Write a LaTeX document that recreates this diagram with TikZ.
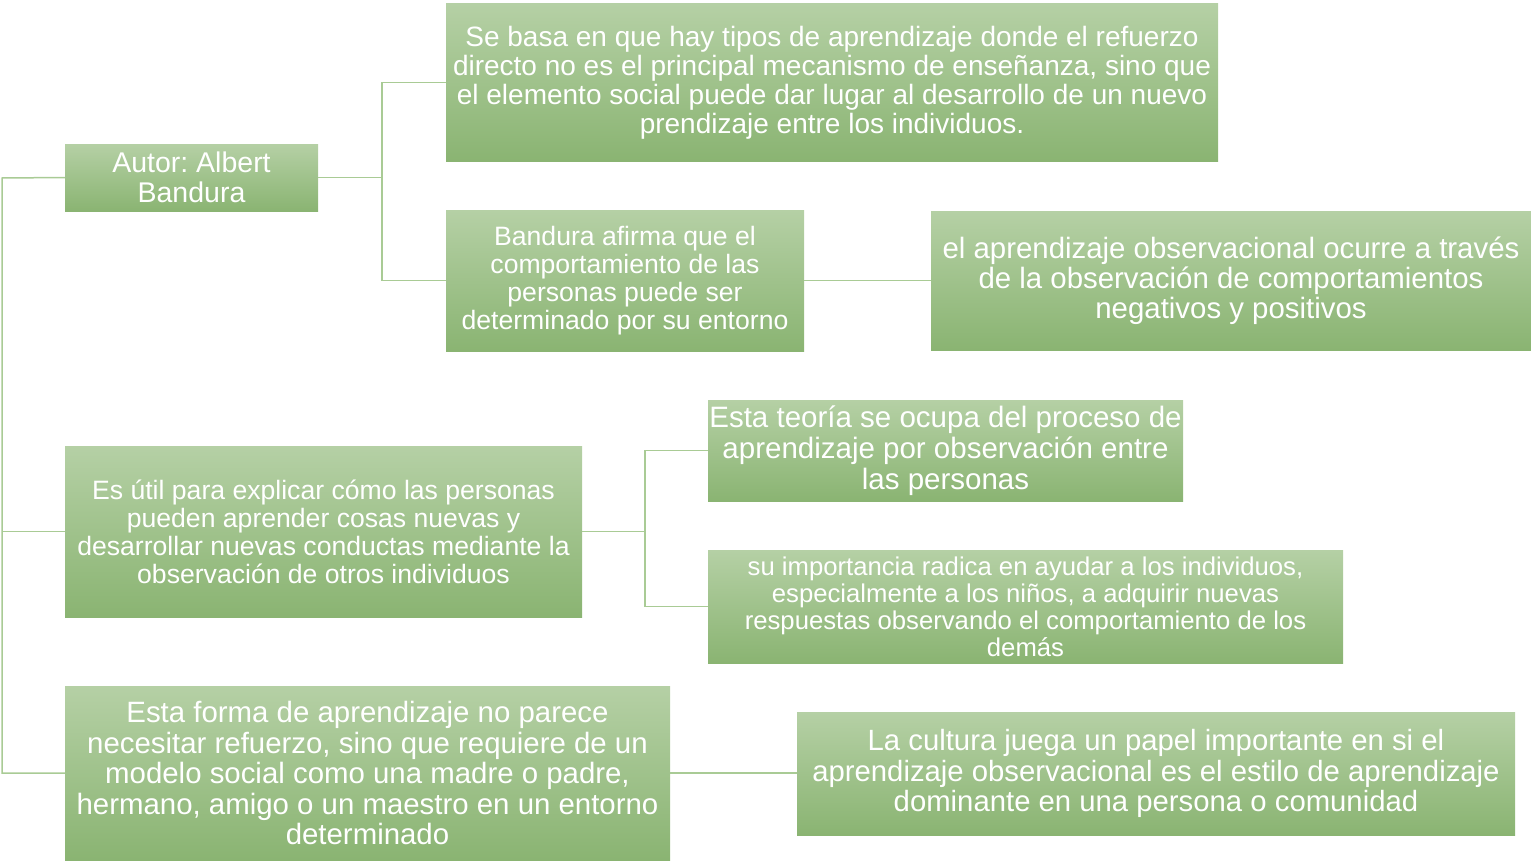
\documentclass[tikz,border=0pt]{standalone}
\usepackage{fontspec}
\setmainfont{Liberation Sans}
\usetikzlibrary{calc}
\definecolor{boxtop}{HTML}{B5D0A5}
\definecolor{boxbottom}{HTML}{8AB472}
\definecolor{linkgreen}{HTML}{A9CB95}
\tikzset{
  concept/.style={anchor=north west,inner sep=0pt,outer sep=0pt,align=center,
    text=white,top color=boxtop,bottom color=boxbottom},
  link/.style={draw=linkgreen,line width=1.5pt}
}
\newcommand{\boxfont}[2]{\fontsize{#1}{#2}\selectfont\frenchspacing}

\begin{document}
\begin{tikzpicture}[x=1pt,y=-1pt]
  \useasboundingbox (0,0) rectangle (1531,867);

  % TRUNK LEVEL
  \node[concept,minimum width=253,minimum height=67,font=\boxfont{28.5}{30}]
    (autor) at (65,144) {Autor: Albert\\Bandura};
  \node[concept,minimum width=517,minimum height=171,font=\boxfont{26.6}{28}]
    (util) at (65,446) {Es útil para explicar cómo las personas\\pueden aprender cosas nuevas y\\desarrollar nuevas conductas mediante la\\observación de otros individuos};
  \node[concept,minimum width=605,minimum height=174,font=\boxfont{29.4}{30.5}]
    (forma) at (65,686) {Esta forma de aprendizaje no parece\\necesitar refuerzo, sino que requiere de un\\modelo social como una madre o padre,\\hermano, amigo o un maestro en un entorno\\determinado};

  % SECOND LEVEL
  \node[concept,minimum width=772,minimum height=157,font=\boxfont{28}{29}]
    (basa) at (446,4) {Se basa en que hay tipos de aprendizaje donde el refuerzo\\directo no es el principal mecanismo de enseñanza, sino que\\el elemento social puede dar lugar al desarrollo de un nuevo\\prendizaje entre los individuos.};
  \node[concept,minimum width=358,minimum height=141,font=\boxfont{26.6}{28}]
    (afirma) at (446,210) {Bandura afirma que el\\comportamiento de las\\personas puede ser\\determinado por su entorno};
  \node[concept,minimum width=475,minimum height=101,font=\boxfont{29.5}{31}]
    (teoria) at (708,400) {Esta teoría se ocupa del proceso de\\aprendizaje por observación entre\\las personas};
  \node[concept,minimum width=635,minimum height=113,font=\boxfont{25.7}{27}]
    (importancia) at (708,550) {su importancia radica en ayudar a los individuos,\\especialmente a los niños, a adquirir nuevas\\respuestas observando el comportamiento de los\\demás};
  \node[concept,minimum width=718,minimum height=123,font=\boxfont{29.3}{30.5}]
    (cultura) at (797,712) {La cultura juega un papel importante en si el\\aprendizaje observacional es el estilo de aprendizaje\\dominante en una persona o comunidad};

  % THIRD LEVEL
  \node[concept,minimum width=600,minimum height=139,font=\boxfont{29.4}{30}]
    (observa) at (931,211) {el aprendizaje observacional ocurre a través\\de la observación de comportamientos\\negativos y positivos};

  % LINKS
  \coordinate (trunk) at (2,178);
  \draw[link] (autor.west) -- (trunk) |- (forma.west);
  \draw[link] (util.west) -- (util.west -| trunk);
  \draw[link] (autor.east) -- ++(64,0) coordinate (fork1) |- (basa.west);
  \draw[link] (fork1) |- (afirma.west);
  \draw[link] (afirma.east) -- (afirma.east -| observa.west);
  \draw[link] (util.east) -- ++(63,0) coordinate (fork2) |- (teoria.west);
  \draw[link] (fork2) |- (importancia.west);
  \draw[link] (forma.east) -- (forma.east -| cultura.west);
\end{tikzpicture}
\end{document}
